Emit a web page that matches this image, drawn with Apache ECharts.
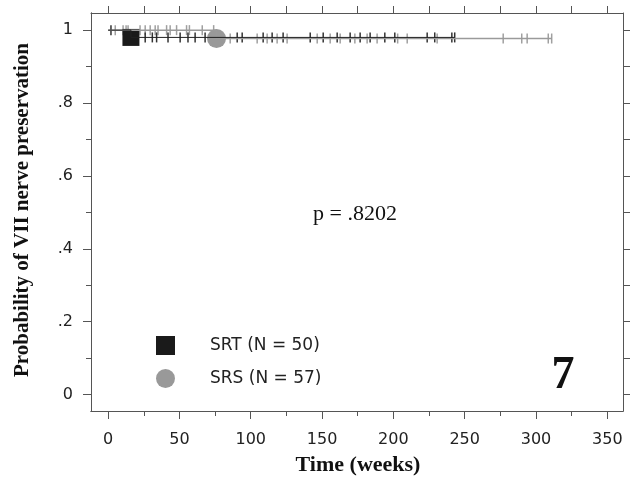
<!DOCTYPE html>
<html>
<head>
<meta charset="utf-8">
<script src="https://cdn.jsdelivr.net/npm/echarts@6/dist/echarts.min.js"></script>
<style>
  html, body { margin: 0; padding: 0; background: #fff; }
  #main { width: 637px; height: 478px; }
</style>
</head>
<body>
<div id="main"></div>
<script>
// Kaplan-Meier steps: [time, probability]
const srtSteps = [[0, 1], [16, 0.98], [243, 0.98]];
const srsSteps = [[0, 1], [76, 0.977], [311, 0.977]];

// event markers
const srtEvents = [[16, 0.98]];
const srsEvents = [[76, 0.977]];

// censored times (weeks)
const srtCensored = [2, 26, 31, 34, 42, 50.5, 56, 61, 68, 90.5, 94, 108.7, 115, 122.7, 141.7, 150.8,
  160.6, 169.7, 176.7, 183.7, 194, 201, 223.7, 229, 241, 243];
const srsCensored = [5, 10.5, 12.6, 14, 22.4, 26, 29.5, 33, 35, 41, 43.5, 48, 55, 57, 66, 74,
  85.6, 104.5, 111.5, 118.5, 125.5, 146.6, 155.7, 162.7, 173, 181.6, 188.6, 203, 209.7, 230.7,
  277, 290, 293.8, 308.6, 311];

const xMajor = [0, 50, 100, 150, 200, 250, 300, 350];
const xMinor = [25, 75, 125, 175, 225, 275, 325];
const yMajor = [0, 0.2, 0.4, 0.6, 0.8, 1];
const yMinor = [0.1, 0.3, 0.5, 0.7, 0.9];
const yLabels = {0: '0', 0.2: '.2', 0.4: '.4', 0.6: '.6', 0.8: '.8', 1: '1'};

function survAt(steps, t) {
  let v = steps[0][1];
  steps.forEach(s => { if (t >= s[0]) v = s[1]; });
  return v;
}

const chart = echarts.init(document.getElementById('main'));

const xMin = -12, xMax = 361, yMin = -0.045, yMax = 1.047;
const axisCol = '#555';
const tickFont = { fontFamily: 'DejaVu Sans', fontSize: 16, color: '#222' };

function xAxis(pos, ticks, len, labels) {
  return {
    type: 'value', position: pos, min: xMin, max: xMax,
    splitLine: { show: false },
    axisLine: { show: true, onZero: false, lineStyle: { color: axisCol, width: 1 } },
    axisTick: { show: true, inside: false, length: len, customValues: ticks, lineStyle: { color: axisCol } },
    axisLabel: labels ? Object.assign({ show: true, margin: 21, customValues: ticks }, tickFont) : { show: false }
  };
}
function yAxis(pos, ticks, len, labels) {
  return {
    type: 'value', position: pos, min: yMin, max: yMax,
    splitLine: { show: false },
    axisLine: { show: true, onZero: false, lineStyle: { color: axisCol, width: 1 } },
    axisTick: { show: true, inside: false, length: len, customValues: ticks, lineStyle: { color: axisCol } },
    axisLabel: labels ? Object.assign({
      show: true, margin: 18, customValues: ticks,
      formatter: v => yLabels[Math.round(v * 10) / 10]
    }, tickFont) : { show: false }
  };
}

const tickMark = { symbol: 'rect', symbolSize: [1.5, 10] };

chart.setOption({
  animation: false,
  grid: { left: 91, top: 13, width: 532, height: 398 },
  xAxis: [
    xAxis('bottom', xMajor, 8, true),
    xAxis('bottom', xMinor, 5, false),
    xAxis('top', xMajor.concat(xMinor), 7, false)
  ],
  yAxis: [
    yAxis('left', yMajor, 8, true),
    yAxis('left', yMinor, 5, false),
    yAxis('right', yMajor.concat(yMinor), 7, false)
  ],
  legend: {
    orient: 'vertical', left: 151, top: 331, itemWidth: 19, itemHeight: 19, itemGap: 14,
    data: ['SRT (N = 50)', 'SRS (N = 57)'],
    textStyle: { fontFamily: 'DejaVu Sans', fontSize: 17, color: '#222', padding: [0, 0, 0, 30] }
  },
  series: [
    { type: 'line', step: 'end', data: srsSteps, showSymbol: false, silent: true,
      lineStyle: { color: '#9a9a9a', width: 1.5 } },
    { type: 'scatter', data: srsCensored.map(t => [t, survAt(srsSteps, t)]), ...tickMark,
      itemStyle: { color: '#a0a0a0', opacity: 1 } },
    { type: 'line', step: 'end', data: srtSteps, showSymbol: false, silent: true,
      lineStyle: { color: '#222', width: 1 } },
    { type: 'scatter', data: srtCensored.map(t => [t, survAt(srtSteps, t)]), ...tickMark,
      itemStyle: { color: '#333', opacity: 1 } },
    { name: 'SRS (N = 57)', type: 'scatter', data: srsEvents, symbol: 'circle', symbolSize: 19,
      itemStyle: { color: '#999', opacity: 1 } },
    { name: 'SRT (N = 50)', type: 'scatter', data: srtEvents, symbol: 'rect', symbolSize: 17,
      itemStyle: { color: '#1a1a1a', opacity: 1 } }
  ],
  graphic: [
    { type: 'text', x: 358, y: 465,
      style: { text: 'Time (weeks)', textAlign: 'center', textVerticalAlign: 'middle',
        font: 'bold 22px "Liberation Serif"', fill: '#111' } },
    { type: 'text', x: 23, y: 210, rotation: Math.PI / 2,
      style: { text: 'Probability of VII nerve preservation', textAlign: 'center', textVerticalAlign: 'middle',
        font: 'bold 21px "Liberation Serif"', fill: '#111' } },
    { type: 'text', x: 355, y: 214,
      style: { text: 'p = .8202', textAlign: 'center', textVerticalAlign: 'middle',
        font: '22px "Liberation Serif"', fill: '#111' } },
    { type: 'text', x: 563, y: 376,
      style: { text: '7', textAlign: 'center', textVerticalAlign: 'middle',
        font: 'bold 46px "Liberation Serif"', fill: '#111' } }
  ]
});
</script>
</body>
</html>
